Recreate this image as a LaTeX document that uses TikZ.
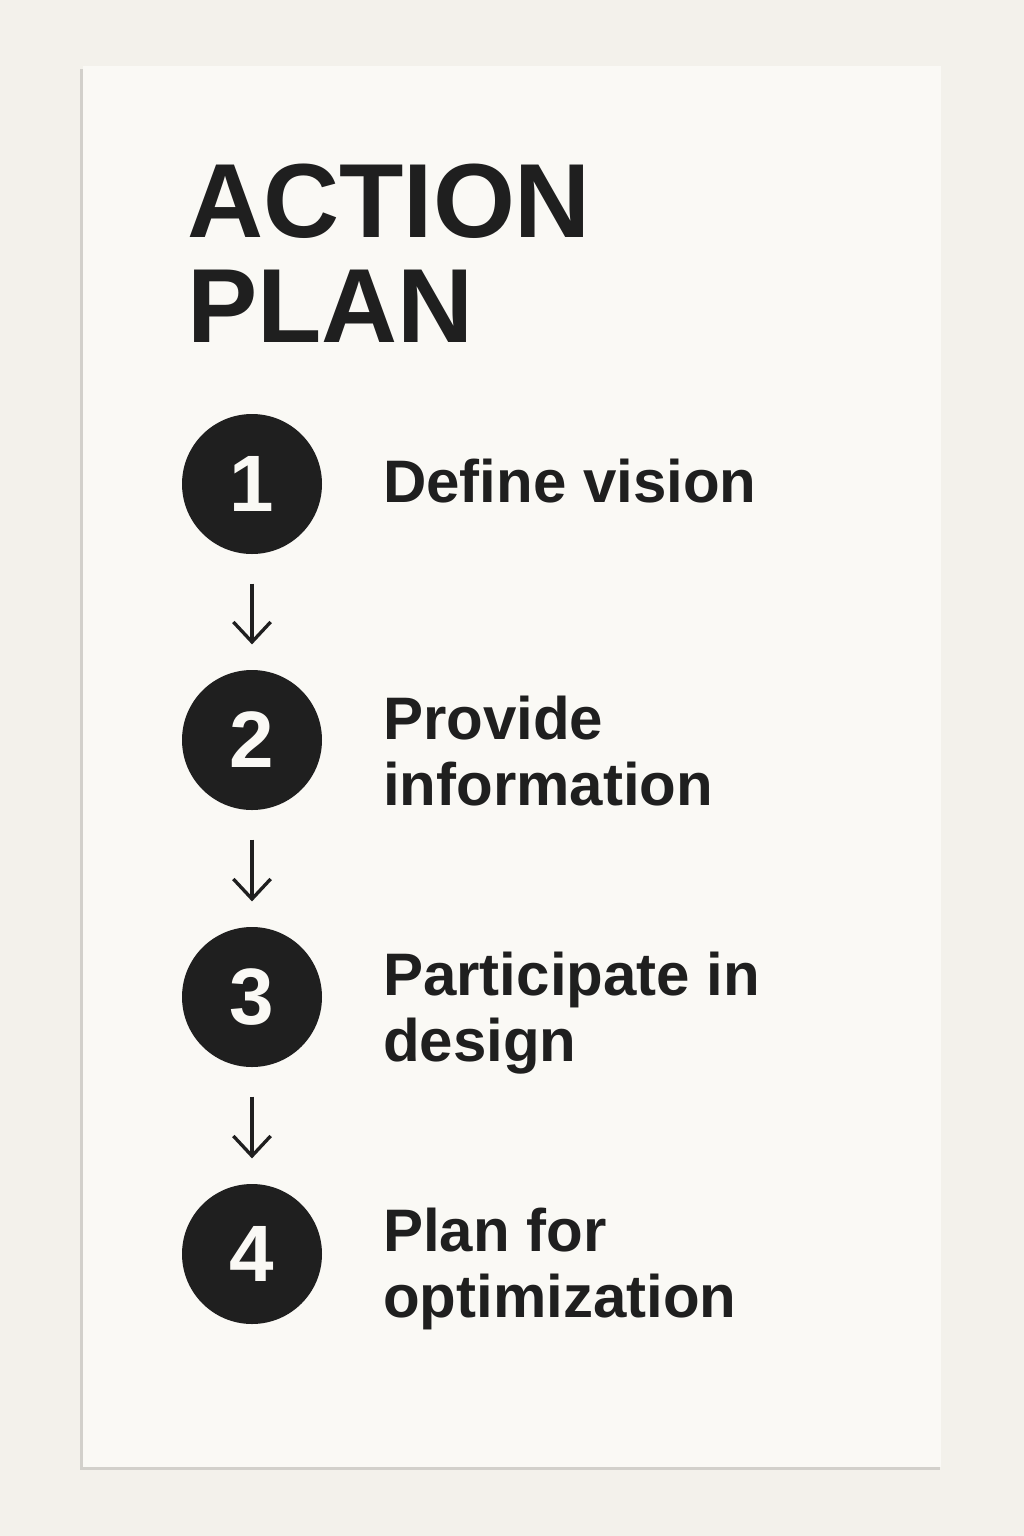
\documentclass[tikz,border=0pt]{standalone}
\usepackage{fontspec}
\setmainfont{Liberation Sans}
\usetikzlibrary{positioning, arrows.meta}
\definecolor{paper}{HTML}{F3F1EB}
\definecolor{card}{HTML}{FAF9F5}
\definecolor{rim}{HTML}{D2D0CB}
\definecolor{ink}{HTML}{1F1F1F}

\begin{document}
\begin{tikzpicture}[
    x = 0.75pt, y = -0.75pt,
    stepdot/.style  = {circle, fill=ink, minimum size=105pt, inner sep=0pt,
                       text=card, font=\fontsize{60}{60}\selectfont\bfseries},
    steptext/.style = {anchor=base west, align=left, inner sep=0pt, text=ink,
                       font=\fontsize{45}{49}\selectfont\bfseries},
    title/.style    = {anchor=base west, inner sep=0pt, text=ink,
                       font=\fontsize{79}{79}\selectfont\bfseries},
    next/.style     = {draw=ink, line width=2.5pt,
                       -{Straight Barb[length=15pt, width=28pt]},
                       shorten <=22pt, shorten >=19pt}
  ]
  \useasboundingbox (0,0) rectangle (1024,1536);
  \fill[paper] (0,0) rectangle (1024,1536);

  % card with a thin shadow
  \fill[rim]  (80,69) rectangle (940,1470);
  \fill[card] (83,66) rectangle (941,1467);

  % heading
  \node[title] (Action) at (187,237) {ACTION};
  \node[title] (Plan)   at (187,342) {PLAN};

  % steps
  \node[stepdot] (S1) at (252,484)  {1};
  \node[stepdot] (S2) at (252,740)  {2};
  \node[stepdot] (S3) at (252,997)  {3};
  \node[stepdot] (S4) at (252,1254) {4};

  % base is the last line of each label
  \node[steptext] (T1) at (383,502)  {Define vision};
  \node[steptext] (T2) at (383,805)  {Provide\\information};
  \node[steptext] (T3) at (383,1061) {Participate in\\design};
  \node[steptext] (T4) at (383,1317) {Plan for\\optimization};

  % arrows between the steps
  \draw[next] (S1) -- (S2);
  \draw[next] (S2) -- (S3);
  \draw[next] (S3) -- (S4);
\end{tikzpicture}
\end{document}
